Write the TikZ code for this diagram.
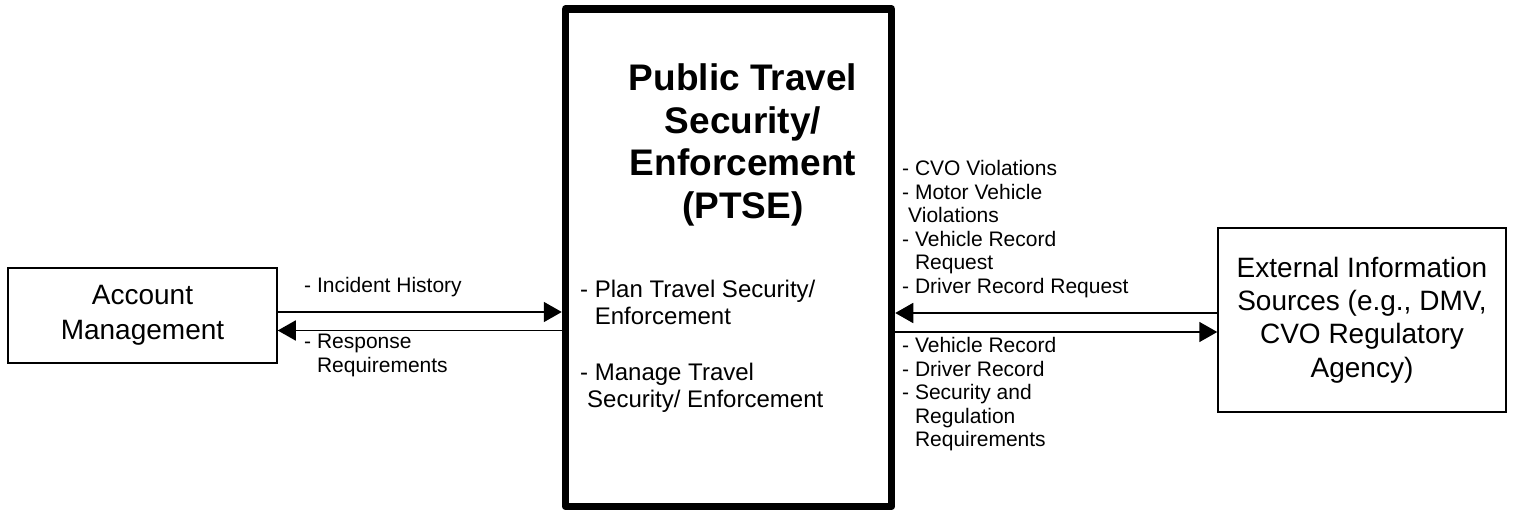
\documentclass[tikz,border=0pt]{standalone}
\usepackage{fontspec}
\setmainfont{Liberation Sans}
\usetikzlibrary{arrows.meta}
\newcommand{\lblindent}{\phantom{- }}

\begin{document}
\begin{tikzpicture}[x=1pt,y=-1pt,
  box/.style={draw,line width=1.5pt,inner sep=0pt,align=center,font=\fontsize{28}{35}\selectfont},
  flow/.style={line width=1.8pt,-{Triangle[length=18pt,width=20pt]}},
  lbl/.style={anchor=north west,inner sep=0pt,align=left,font=\fontsize{21}{23.6}\selectfont},
  fnlbl/.style={anchor=north west,inner sep=0pt,align=left,font=\fontsize{24}{27}\selectfont}]
\useasboundingbox (0,0) rectangle (1518,510);
\node[box,minimum width=269pt,minimum height=95pt] (acct) at (142.5,315.5) {Account\\Management};
\node[draw,line width=7.5pt,line join=round,minimum width=326pt,minimum height=497.5pt] (ptse) at (728.5,257.75) {};
\node[box,minimum width=288pt,minimum height=184pt,font=\fontsize{28}{33.3}\selectfont] (ext) at (1362,320) {External Information\\Sources (e.g., DMV,\\CVO Regulatory\\Agency)};
\node[anchor=north,inner sep=0pt,align=center,font=\fontsize{37}{42.5}\selectfont\bfseries] (title) at (743,63.5) {Public Travel\\Security/\\Enforcement\\(PTSE)};
\node[fnlbl] (plan) at (580,280) {- Plan Travel Security/\\\lblindent Enforcement};
\node[fnlbl] (manage) at (580,363) {- Manage Travel\\\hspace*{7pt}Security/ Enforcement};
\coordinate (la) at (0,312);
\coordinate (lb) at (0,330.5);
\coordinate (ra) at (0,313);
\coordinate (rb) at (0,332);
\draw[flow] (acct.east |- la) -- (ptse.west |- la);
\draw[flow] (ptse.west |- lb) -- (acct.east |- lb);
\draw[flow] (ext.west |- ra) -- (ptse.east |- ra);
\draw[flow] (ptse.east |- rb) -- (ext.west |- rb);
\node[lbl] (hist) at (304,277) {- Incident History};
\node[lbl] (resp) at (304,334) {- Response\\\lblindent Requirements};
\node[lbl] (rin) at (902,160) {- CVO Violations\\- Motor Vehicle\\\hspace*{6pt}Violations\\- Vehicle Record\\\lblindent Request\\- Driver Record Request};
\node[lbl] (rout) at (902,337) {- Vehicle Record\\- Driver Record\\- Security and\\\lblindent Regulation\\\lblindent Requirements};
\end{tikzpicture}
\end{document}
